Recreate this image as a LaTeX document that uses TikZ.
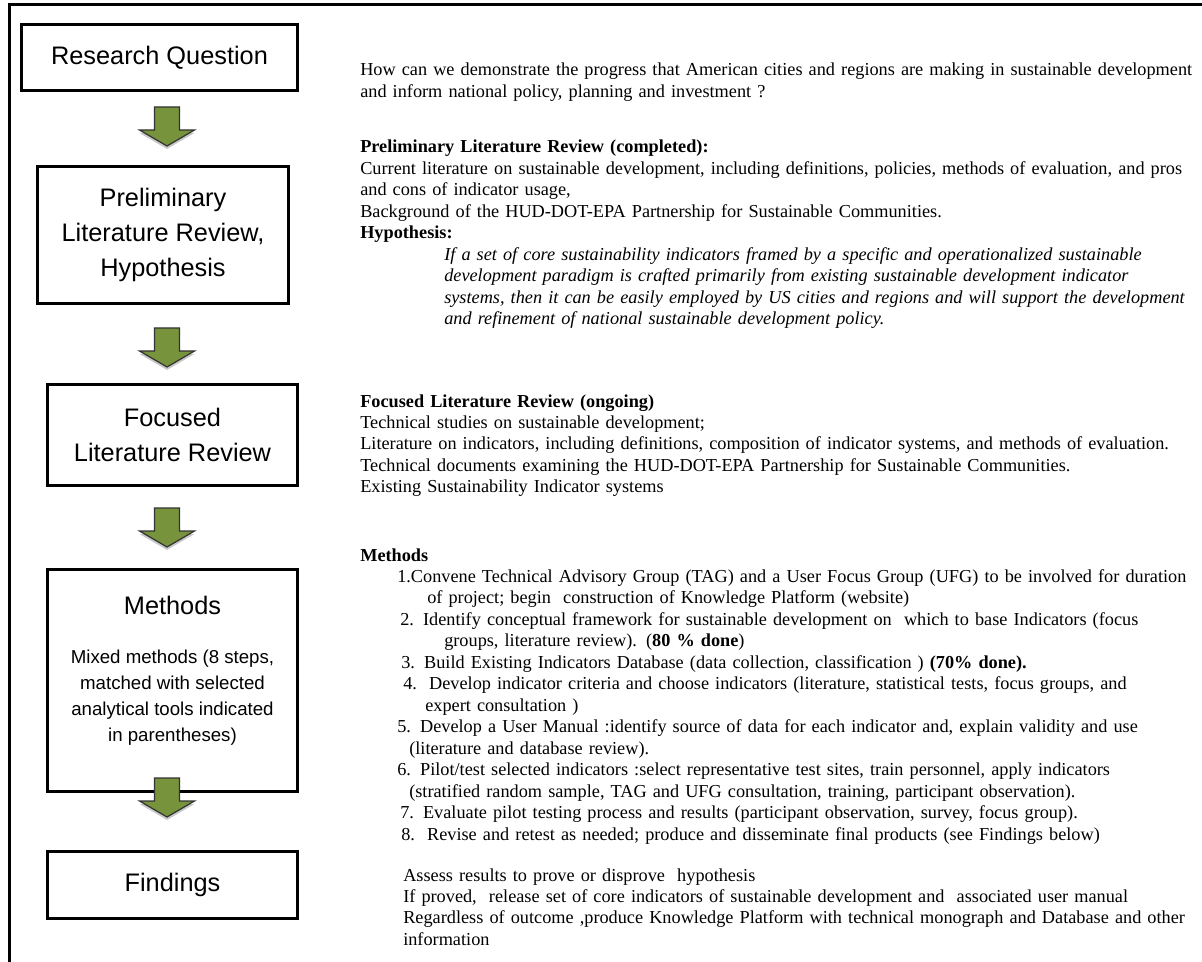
\documentclass[tikz,border=0pt]{standalone}
\usepackage{fontspec}
\setmainfont{Liberation Serif}
\newfontfamily\boxfont{Liberation Sans}
\definecolor{flowgreen}{HTML}{77933C}
\definecolor{flowshade}{HTML}{C8C8C8}

\tikzset{
  pics/flowarrow/.style={code={
    \fill[flowshade] (-12.5,3) -- (12.5,3) -- (12.5,26) -- (27.5,26) -- (0,42) -- (-27.5,26) -- (-12.5,26) -- cycle;
    \draw[fill=flowgreen,draw=black!80,line width=0.9pt] (-12.5,0) -- (12.5,0) -- (12.5,23) -- (27.5,23) -- (0,39) -- (-27.5,23) -- (-12.5,23) -- cycle;
  }}
}

\begin{document}
\begin{tikzpicture}[x=0.75pt,y=-0.75pt,
  every node/.style={inner sep=0pt},
  stage/.style={draw=black,line width=2.6pt,fill=white,align=center,font=\boxfont\fontsize{19}{26.25}\selectfont},
  note/.style={anchor=base west,text width=825pt,align=left,font=\fontsize{13.7}{16.1}\selectfont}
]
\fill[white] (0,0) rectangle (1202,962);
\useasboundingbox (0,0) rectangle (1202,962);
\draw[line width=2.5pt] (9.5,962) -- (9.5,4.5) -- (1202,4.5);

% left column: stages
\node[stage,minimum width=206.7pt,minimum height=49.2pt] (rq) at (159.5,57.5) {Research Question};
\node[stage,minimum width=188pt,minimum height=102.5pt] (prelim) at (163,235) {Preliminary\\Literature Review,\\Hypothesis};
\node[stage,minimum width=187.3pt,minimum height=75.5pt] (focus) at (172.5,435) {Focused\\Literature Review};
\node[stage,minimum width=187.3pt,minimum height=166.3pt] (methods) at (172.5,680.5) {};
\node[font=\boxfont\fontsize{19}{26.25}\selectfont] (methodslabel) at (172.5,605) {Methods};
\node[font=\boxfont\fontsize{14}{19.5}\selectfont,align=center] (methodsnote) at (172.5,698) {Mixed methods (8 steps,\\matched with selected\\analytical tools indicated\\in parentheses)};
\node[stage,minimum width=187.3pt,minimum height=50pt] (findings) at (172.5,885) {Findings};

\pic at (167,107) {flowarrow};
\pic at (167,328) {flowarrow};
\pic at (167,508) {flowarrow};
\pic at (167,778) {flowarrow};

% right column: descriptions
\node[note] (question) at (360,76) {How can we demonstrate the progress that American cities and regions are making in sustainable development\\
and inform national policy, planning and investment ?};
\node[note] (prelimtext) at (360,153) {\textbf{Preliminary Literature Review (completed):}\\
Current literature on sustainable development, including definitions, policies, methods of evaluation, and pros\\
and cons of indicator usage,\\
Background of the HUD-DOT-EPA Partnership for Sustainable Communities.\\
\textbf{Hypothesis:}};
\node[note,font=\itshape\fontsize{13.7}{16.1}\selectfont] (hypothesis) at (444,260.5) {If a set of core sustainability indicators framed by a specific and operationalized sustainable\\
development paradigm is crafted primarily from existing sustainable development indicator\\
systems, then it can be easily employed by US cities and regions and will support the development\\
and refinement of national sustainable development policy.};
\node[note] (focustext) at (360,407) {\textbf{Focused Literature Review (ongoing)}\\
Technical studies on sustainable development;\\
Literature on indicators, including definitions, composition of indicator systems, and methods of evaluation.\\
Technical documents examining the HUD-DOT-EPA Partnership for Sustainable Communities.\\
Existing Sustainability Indicator systems};
\node[note] (methodstext) at (360,561) {\textbf{Methods}\\
\hspace*{27.75pt}1.Convene Technical Advisory Group (TAG) and a User Focus Group (UFG) to be involved for duration\\
\hspace*{50.25pt}of project; begin\ \ construction of Knowledge Platform (website)\\
\hspace*{30pt}2. Identify conceptual framework for sustainable development on\ \ which to base Indicators (focus\\
\hspace*{63pt}groups, literature review). (\textbf{80 \% done})\\
\hspace*{30.75pt}3. Build Existing Indicators Database (data collection, classification ) \textbf{(70\% done).}\\
\hspace*{32.25pt}4.\ \ Develop indicator criteria and choose indicators (literature, statistical tests, focus groups, and\\
\hspace*{48.75pt}expert consultation )\\
\hspace*{27.75pt}5. Develop a User Manual :identify source of data for each indicator and, explain validity and use\\
\hspace*{36.75pt}(literature and database review).\\
\hspace*{27.75pt}6. Pilot/test selected indicators :select representative test sites, train personnel, apply indicators\\
\hspace*{36.75pt}(stratified random sample, TAG and UFG consultation, training, participant observation).\\
\hspace*{30pt}7. Evaluate pilot testing process and results (participant observation, survey, focus group).\\
\hspace*{30.75pt}8.\ \ Revise and retest as needed; produce and disseminate final products (see Findings below)};
\node[note] (findingstext) at (403,881) {Assess results to prove or disprove\ \ hypothesis\\
If proved,\ \ release set of core indicators of sustainable development and\ \ associated user manual\\
Regardless of outcome ,produce Knowledge Platform with technical monograph and Database and other\\
information};
\end{tikzpicture}
\end{document}
